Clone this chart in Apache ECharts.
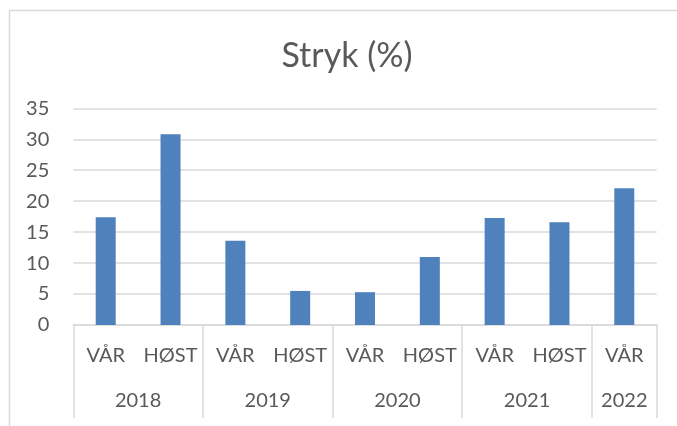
<!DOCTYPE html>
<html>
<head>
<meta charset="utf-8">
<style>html,body{margin:0;padding:0;background:#fff}#c{width:677px;height:426px}</style>
<script src="https://cdn.jsdelivr.net/npm/echarts@6/dist/echarts.min.js"></script>
</head>
<body>
<div id="c"></div>
<script>
var seasons = ['VÅR','HØST','VÅR','HØST','VÅR','HØST','VÅR','HØST','VÅR'];
var years = ['2018','2019','2020','2021','2022'];
var yearCenters = [1, 3, 5, 7, 8.5];
var yearBounds = [0, 2, 4, 6, 8, 9];
var values = [17.4, 30.8, 13.6, 5.5, 5.3, 11.0, 17.3, 16.6, 22.1];
var yTicks = [0, 5, 10, 15, 20, 25, 30, 35];

var FONT = 'Lato';
var TXT = '#595959';
var LINE = '#d9d9d9';
var chart = echarts.init(document.getElementById('c'), null, {renderer: 'canvas'});
chart.setOption({
  animation: false,
  backgroundColor: '#fff',
  graphic: [
    {type: 'rect', shape: {x: 9.5, y: 10.5, width: 700, height: 460},
     style: {fill: 'none', stroke: LINE, lineWidth: 1.5}, silent: true},
    {type: 'text', x: 347, y: 56,
     style: {text: 'Stryk (%)', fill: TXT, font: '34px ' + FONT, align: 'center', verticalAlign: 'middle'}}
  ],
  grid: {left: 73.3, right: 20.3, top: 108.3, bottom: 101},
  xAxis: [
    {type: 'category', data: seasons, position: 'bottom',
     axisLine: {show: true, lineStyle: {color: LINE, width: 1.5}},
     axisTick: {show: false},
     axisLabel: {color: TXT, fontSize: 20, fontFamily: FONT, margin: 21, interval: 0}},
    {type: 'value', min: 0, max: 9, position: 'bottom',
     axisLine: {show: false},
     splitLine: {show: false},
     axisTick: {show: true, length: 93, customValues: yearBounds, lineStyle: {color: LINE, width: 1.5}},
     axisLabel: {color: TXT, fontSize: 20, fontFamily: FONT, margin: 66, customValues: yearCenters,
       formatter: function (v) { var i = yearCenters.indexOf(v); return i >= 0 ? years[i] : ''; }}}
  ],
  yAxis: {type: 'value', min: yTicks[0], max: yTicks[yTicks.length - 1], interval: 5,
    axisLine: {show: false}, axisTick: {show: false},
    splitLine: {lineStyle: {color: LINE, width: 1.5}},
    axisLabel: {color: TXT, fontSize: 20, fontFamily: FONT, margin: 24}},
  series: [{type: 'bar', data: values, xAxisIndex: 0, barWidth: 20,
    itemStyle: {color: '#4f81bd'}}]
});
</script>
</body>
</html>
